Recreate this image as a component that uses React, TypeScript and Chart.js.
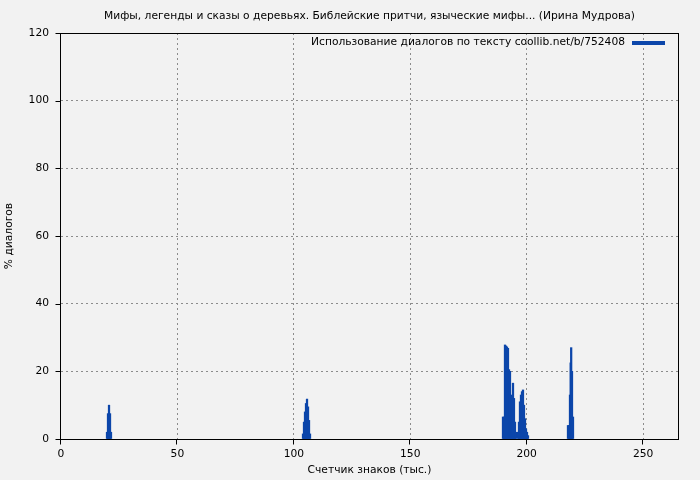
import React, { useEffect, useRef } from 'react';
import { Chart, registerables } from 'chart.js';

Chart.register(...registerables);

const TITLE = 'Мифы, легенды и сказы о деревьях. Библейские притчи, языческие мифы... (Ирина Мудрова)';
const LEGEND_LABEL = 'Использование диалогов по тексту coollib.net/b/752408';
const X_TITLE = 'Счетчик знаков (тыс.)';
const Y_TITLE = '% диалогов';

const X_TICKS = [0, 50, 100, 150, 200, 250];
const Y_TICKS = [0, 20, 40, 60, 80, 100, 120];
const X_MAX = 265;
const Y_MAX = 120;

// text position, thousands of characters
const positions = [
  19.76, 20.19, 20.62, 21.05, 21.47,
  103.94, 104.37, 104.8, 105.23, 105.66, 106.09, 106.52, 106.95,
  189.83, 190.26, 190.69, 191.12, 191.55, 191.98, 192.41, 192.84, 193.27, 193.7, 194.13, 194.55, 194.98, 195.41,
  196.27, 196.7, 197.13, 197.56, 197.99, 198.42, 198.85, 199.28, 199.71, 200.14, 200.57,
  217.75, 218.18, 218.61, 218.9, 219.12, 219.47, 219.9,
];

// share of dialogue, %
const dialogShare = [
  2, 7.5, 10, 7.5, 2,
  1.5, 5, 8, 10.5, 11.8, 9.5, 5.5, 1.5,
  6.5, 6.5, 27.8, 27.5, 27.2, 26.8, 20.5, 20, 7, 13, 16.5, 12, 5, 2,
  2, 5, 11, 13, 14, 14.5, 10, 6, 3, 2, 1,
  4, 4, 13, 22.5, 27, 20, 6.5,
];

const BAR_COLOR = '#0c46aa';
const BG = '#f2f2f2';
const GRID = '#8c8c8c';
const FONT = 'DejaVu Sans';
const FS = 10.7;

export default function App() {
  const ref = useRef<HTMLCanvasElement | null>(null);

  useEffect(() => {
    document.body.style.margin = '0';
    const canvas = ref.current;
    if (!canvas) return;

    const decor = {
      id: 'decor',
      beforeDraw(chart: any) {
        const ctx = chart.ctx;
        ctx.save();
        ctx.fillStyle = BG;
        ctx.fillRect(0, 0, chart.width, chart.height);
        ctx.restore();
      },
      afterDraw(chart: any) {
        const ctx = chart.ctx;
        const a = chart.chartArea;
        const xs = chart.scales.x;
        const ys = chart.scales.y;
        const L = Math.round(a.left) - 0.5;
        const T = Math.round(a.top) + 0.5;
        const R = Math.round(a.right) + 0.5;
        const B = Math.round(a.bottom) + 0.5;
        ctx.save();
        // frame
        ctx.strokeStyle = '#000';
        ctx.lineWidth = 1;
        ctx.strokeRect(L, T, R - L, B - T);
        // ticks
        ctx.beginPath();
        X_TICKS.forEach((v) => {
          const px = Math.round(xs.getPixelForValue(v)) - 0.5;
          ctx.moveTo(px, B);
          ctx.lineTo(px, B + 5);
        });
        Y_TICKS.forEach((v) => {
          const py = Math.round(ys.getPixelForValue(v)) + 0.5;
          ctx.moveTo(L - 5, py);
          ctx.lineTo(L, py);
        });
        ctx.stroke();
        // title
        ctx.fillStyle = '#000';
        ctx.font = `${FS}px "${FONT}"`;
        ctx.textAlign = 'center';
        ctx.textBaseline = 'middle';
        ctx.fillText(TITLE, (a.left + a.right) / 2, 16);
        // legend
        ctx.textAlign = 'right';
        ctx.fillText(LEGEND_LABEL, a.right - 53, a.top + 9.5);
        ctx.fillStyle = BAR_COLOR;
        ctx.fillRect(a.right - 46, a.top + 8, 33, 4);
        ctx.restore();
      },
    };

    const chart = new Chart(canvas, {
      type: 'bar',
      data: {
        datasets: [
          {
            label: LEGEND_LABEL,
            data: positions.map((x, i) => ({ x, y: dialogShare[i] })),
            backgroundColor: BAR_COLOR,
            borderWidth: 0,
            barThickness: 1.6,
            grouped: false,
          } as any,
        ],
      },
      options: {
        responsive: false,
        devicePixelRatio: 1,
        animation: false,
        layout: { padding: { top: 33, right: 22, left: 0, bottom: 0 } },
        plugins: { legend: { display: false }, title: { display: false }, tooltip: { enabled: false } },
        scales: {
          x: {
            type: 'linear',
            min: 0,
            max: X_MAX,
            offset: false,
            afterBuildTicks: (s: any) => { s.ticks = X_TICKS.map((v) => ({ value: v })); },
            afterFit: (s: any) => { s.height = 41; },
            grid: {
              color: (c: any) => (c.tick && c.tick.value === 0 ? 'rgba(0,0,0,0)' : GRID),
              drawTicks: false,
              lineWidth: 1,
              offset: false,
            },
            border: { display: false, dash: [2, 3] },
            ticks: { color: '#000', font: { family: FONT, size: FS }, padding: 9, maxRotation: 0, autoSkip: false },
            title: { display: true, text: X_TITLE, color: '#000', font: { family: FONT, size: FS }, padding: { top: 0, bottom: 3 } },
          },
          y: {
            type: 'linear',
            min: 0,
            max: Y_MAX,
            afterBuildTicks: (s: any) => { s.ticks = Y_TICKS.map((v) => ({ value: v })); },
            afterFit: (s: any) => { s.width = 61; },
            grid: {
              color: (c: any) => (c.tick && (c.tick.value === 0 || c.tick.value === Y_MAX) ? 'rgba(0,0,0,0)' : GRID),
              drawTicks: false,
              lineWidth: 1,
            },
            border: { display: false, dash: [2, 3] },
            ticks: { color: '#000', font: { family: FONT, size: FS }, padding: 12 },
            title: { display: true, text: Y_TITLE, color: '#000', font: { family: FONT, size: FS }, padding: { top: 3, bottom: 0 } },
          },
        },
      } as any,
      plugins: [decor],
    });

    return () => chart.destroy();
  }, []);

  return (
    <div style={{ position: 'absolute', left: 0, top: 0, width: 700, height: 480 }}>
      <canvas ref={ref} width={700} height={480} style={{ display: 'block', width: 700, height: 480 }} />
    </div>
  );
}
